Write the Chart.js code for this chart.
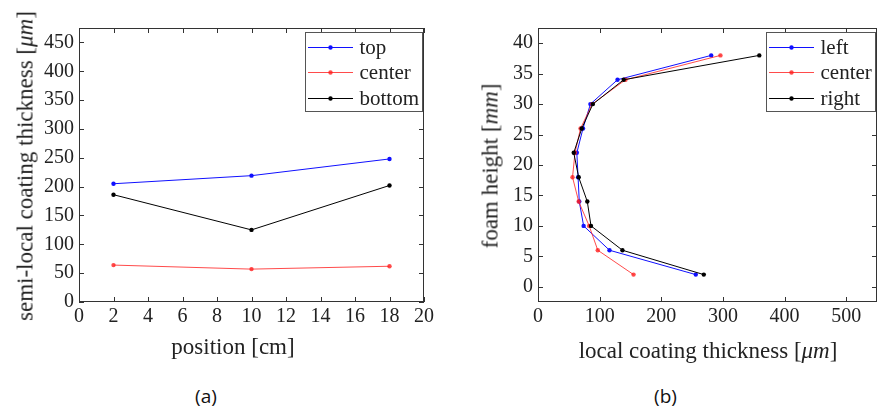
<!DOCTYPE html>
<html>
<head>
<meta charset="utf-8">
<script src="https://cdn.jsdelivr.net/npm/chart.js@4.4.0/dist/chart.umd.min.js"></script>
<style>
  html, body { margin: 0; padding: 0; background: #fff; }
  #wrap { position: relative; width: 881px; height: 410px; overflow: hidden; font-family: "Liberation Serif", serif; color: #222; }
  canvas { position: absolute; top: 0; }
  .ttl { position: absolute; font-size: 23px; line-height: 1; white-space: nowrap; transform: translate(-50%, -50%); }
  .ttl.rot { transform: translate(-50%, -50%) rotate(-90deg); }
  .cap { position: absolute; font-family: "Open Sans", sans-serif; font-size: 19px; line-height: 1; transform: translate(-50%, -50%); color: #111; }
</style>
</head>
<body>
<div id="wrap">
  <canvas id="chartA" width="440" height="370" style="left:0"></canvas>
  <canvas id="chartB" width="441" height="370" style="left:440px"></canvas>

  <div class="ttl rot" style="left:25px; top:166px">semi-local coating thickness [<i>μm</i>]</div>
  <div class="ttl" style="left:233px; top:346px">position [cm]</div>
  <div class="ttl rot" style="left:489.5px; top:166px">foam height [<i>mm</i>]</div>
  <div class="ttl" style="left:708px; top:350px">local coating thickness [<i>μm</i>]</div>

  <div class="cap" style="left:206px; top:396px">(a)</div>
  <div class="cap" style="left:665.5px; top:396px">(b)</div>
</div>
<script>
// (a) semi-local thickness vs position
const positions = [2, 10, 18];
const topVals = [205, 219, 248];
const centerVals = [64, 57, 62];
const bottomVals = [186, 125, 202];
const xTicksA = [0, 2, 4, 6, 8, 10, 12, 14, 16, 18, 20];
const yTicksA = [0, 50, 100, 150, 200, 250, 300, 350, 400, 450];

// (b) local thickness vs foam height
const heights = [2, 6, 10, 14, 18, 22, 26, 30, 34, 38];
const leftThk = [256, 116, 74, 67, 65, 63, 73, 85, 129, 281];
const centerThk = [155, 97, 83, 66, 56, 60, 69, 88, 142, 296];
const rightThk = [269, 137, 86, 80, 66, 58, 71, 89, 139, 359];
const xTicksB = [0, 100, 200, 300, 400, 500];
const yTicksB = [0, 5, 10, 15, 20, 25, 30, 35, 40];

const BLUE = '#1010ff';
const RED = 'rgba(255,30,30,0.8)';
const BLACK = '#000';
const SERIF = '"Liberation Serif", "Times New Roman", serif';

Chart.defaults.font.family = SERIF;
Chart.defaults.font.size = 20;

// frame + inward tick marks on all four sides
const frameTicks = {
  id: 'frameTicks',
  afterDraw(chart) {
    const ctx = chart.ctx;
    const a = chart.chartArea;
    ctx.save();
    ctx.strokeStyle = '#333';
    ctx.lineWidth = 1;
    ctx.strokeRect(a.left + 0.5, a.top + 0.5, a.right - a.left - 1, a.bottom - a.top - 1);
    ctx.beginPath();
    const xs = chart.scales.x, ys = chart.scales.y;
    xs.ticks.forEach(t => {
      const p = Math.round(xs.getPixelForValue(t.value)) + 0.5;
      ctx.moveTo(p, a.bottom); ctx.lineTo(p, a.bottom - 5);
      ctx.moveTo(p, a.top); ctx.lineTo(p, a.top + 5);
    });
    ys.ticks.forEach(t => {
      const p = Math.round(ys.getPixelForValue(t.value)) + 0.5;
      ctx.moveTo(a.left, p); ctx.lineTo(a.left + 5, p);
      ctx.moveTo(a.right, p); ctx.lineTo(a.right - 5, p);
    });
    ctx.stroke();
    ctx.restore();
  }
};

// boxed legend inside the plot
const boxLegend = {
  id: 'boxLegend',
  afterDraw(chart, args, opts) {
    const ctx = chart.ctx;
    ctx.save();
    ctx.strokeStyle = '#555';
    ctx.lineWidth = 1;
    ctx.fillStyle = '#fff';
    ctx.fillRect(opts.x, opts.y, opts.w, opts.h);
    ctx.strokeRect(opts.x + 0.5, opts.y + 0.5, opts.w, opts.h);
    ctx.font = '21px ' + SERIF;
    ctx.textBaseline = 'middle';
    // legend keeps the original dataset order
    const sets = chart.data.datasets.slice().sort((p, q) => p.legendIdx - q.legendIdx);
    sets.forEach((ds, i) => {
      const ry = Math.round(opts.y + 14.5 + i * 25.5) + 0.5;
      ctx.strokeStyle = ds.borderColor;
      ctx.beginPath();
      ctx.moveTo(opts.x + 3, ry); ctx.lineTo(opts.x + 48, ry);
      ctx.stroke();
      ctx.fillStyle = ds.pointBackgroundColor;
      ctx.beginPath();
      ctx.arc(opts.x + 25.5, ry, 2.2, 0, Math.PI * 2);
      ctx.fill();
      ctx.fillStyle = '#222';
      ctx.fillText(ds.label, opts.x + 54.5, ry + 1);
    });
    ctx.restore();
  }
};

function series(label, xs, ys, color, order, idx) {
  return {
    label: label,
    data: xs.map((x, i) => ({ x: x, y: ys[i] })),
    showLine: true,
    borderColor: color,
    borderWidth: 1,
    pointRadius: 2.2,
    pointBorderWidth: 0,
    pointBackgroundColor: color,
    order: order,
    legendIdx: idx
  };
}

function linAxis(min, max, tickVals, pad, fit) {
  return {
    type: 'linear', min: min, max: max,
    grid: { display: false, drawTicks: false },
    border: { display: false },
    ticks: { padding: pad, color: '#222', font: { family: SERIF, size: 20 }, maxRotation: 0, autoSkip: false },
    afterBuildTicks: s => { s.ticks = tickVals.map(v => ({ value: v })); },
    afterFit: fit
  };
}

function baseOptions(pad, legendBox, xAxis, yAxis) {
  return {
    responsive: false,
    devicePixelRatio: 1,
    animation: false,
    layout: { padding: pad },
    plugins: { legend: { display: false }, tooltip: { enabled: false }, boxLegend: legendBox },
    scales: { x: xAxis, y: yAxis }
  };
}

new Chart(document.getElementById('chartA'), {
  type: 'scatter',
  data: {
    datasets: [
      series('top', positions, topVals, BLUE, 3, 0),
      series('center', positions, centerVals, RED, 2, 1),
      series('bottom', positions, bottomVals, BLACK, 1, 2)
    ]
  },
  options: baseOptions(
    { left: 0, top: 28, right: 16, bottom: 0 },
    { x: 305, y: 32, w: 117, h: 79 },
    linAxis(0, 20, xTicksA, 3, s => { s.height = 68; }),
    linAxis(0, 475, yTicksA, 5, s => { s.width = 79; })
  ),
  plugins: [frameTicks, boxLegend]
});

new Chart(document.getElementById('chartB'), {
  type: 'scatter',
  data: {
    datasets: [
      series('left', leftThk, heights, BLUE, 3, 0),
      series('center', centerThk, heights, RED, 2, 1),
      series('right', rightThk, heights, BLACK, 1, 2)
    ]
  },
  options: baseOptions(
    { left: 0, top: 28, right: 2, bottom: 0 },
    { x: 326, y: 32, w: 109, h: 79 },
    linAxis(0, 550, xTicksB, 3, s => { s.height = 68; }),
    linAxis(-2.5, 42.5, yTicksB, 5, s => { s.width = 98; })
  ),
  plugins: [frameTicks, boxLegend]
});
</script>
</body>
</html>
